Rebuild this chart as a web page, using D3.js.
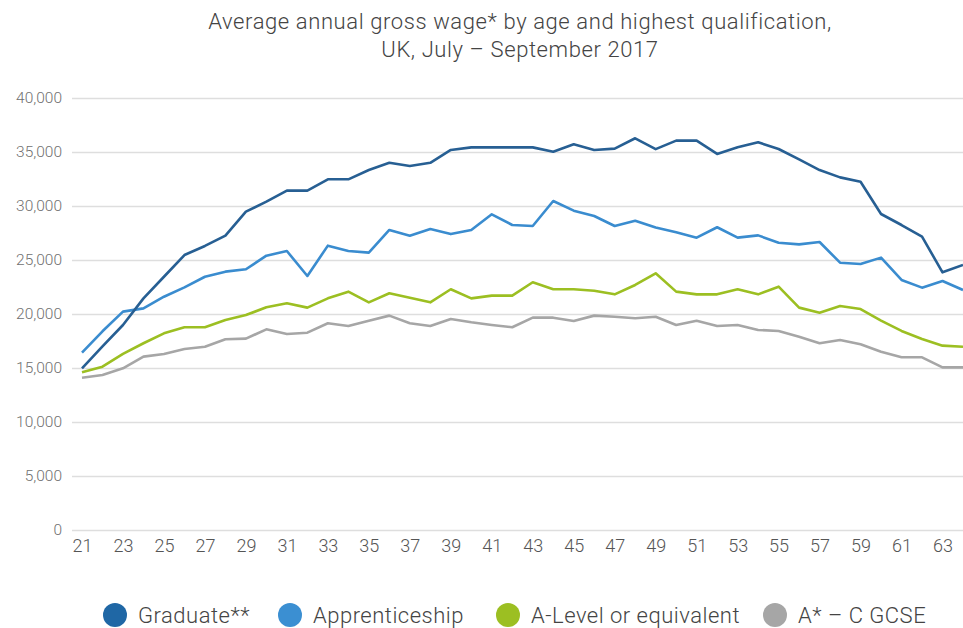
<!DOCTYPE html>
<html>
<head>
<meta charset="utf-8">
<script src="https://cdn.jsdelivr.net/npm/d3@7"></script>
<style>
  body { margin: 0; background: #fff; }
  svg { display: block; font-family: Roboto, "Liberation Sans", sans-serif; }
</style>
</head>
<body>
<svg id="chart" width="963" height="628"></svg>
<script>
const ages = d3.range(21, 65)

const graduate = [14970, 17000, 18980, 21450, 23450, 25460, 26300, 27250, 29480, 30400,
  31420, 31420, 32470, 32470, 33330, 34000, 33700, 34000, 35190, 35430,
  35430, 35430, 35430, 35030, 35710, 35190, 35310, 36270, 35270, 36050,
  36050, 34820, 35430, 35900, 35280, 34320, 33330, 32650, 32250, 29260,
  28240, 27160, 23860, 24540]
const apprenticeship = [16420, 18400, 20220, 20520, 21600, 22470, 23450, 23920, 24140, 25400,
  25830, 23520, 26330, 25830, 25680, 27780, 27250, 27870, 27400, 27780,
  29230, 28240, 28150, 30460, 29570, 29070, 28150, 28640, 28000, 27560,
  27070, 28030, 27070, 27280, 26600, 26450, 26670, 24750, 24630, 25220,
  23150, 22440, 23060, 22220]
const aLevel = [14600, 15120, 16300, 17290, 18210, 18770, 18770, 19440, 19900, 20620,
  20990, 20590, 21450, 22070, 21080, 21920, 21510, 21080, 22290, 21450,
  21700, 21700, 22940, 22290, 22290, 22160, 21820, 22690, 23770, 22070,
  21820, 21820, 22290, 21820, 22530, 20590, 20120, 20740, 20460, 19380,
  18430, 17690, 17070, 16970]
const gcse = [14100, 14350, 14970, 16050, 16300, 16760, 16970, 17660, 17720, 18580,
  18150, 18270, 19140, 18890, 19380, 19850, 19140, 18890, 19540, 19230,
  18980, 18770, 19660, 19660, 19350, 19850, 19750, 19600, 19750, 18980,
  19380, 18890, 18980, 18520, 18430, 17900, 17290, 17590, 17190, 16510,
  15990, 15990, 15060, 15060]

const seriesNames = ['Graduate**', 'Apprenticeship', 'A-Level or equivalent', 'A* \u2013 C GCSE']
const seriesValues = [graduate, apprenticeship, aLevel, gcse]
const lineColors = ['#275f93', '#3a8ccf', '#9cbf22', '#a6a6a6']
const legendColors = ['#1f67a5', '#3b8fd2', '#9cbf22', '#a6a6a6']
const yTicks = [0, 5000, 10000, 15000, 20000, 25000, 30000, 35000, 40000]
const xTicks = d3.range(21, 64, 2)

const svg = d3.select('#chart')

const x = d3.scaleLinear().domain([21, 64]).range([82, 963])
const y = d3.scaleLinear().domain([0, 40000]).range([530, 98])

// title
const title = svg.append('g')
  .attr('font-size', 22).attr('font-weight', 300).attr('letter-spacing', 0.6)
  .attr('fill', '#444').attr('text-anchor', 'middle')
title.append('text').attr('x', 520).attr('y', 29)
  .text('Average annual gross wage* by age and highest qualification,')
title.append('text').attr('x', 520).attr('y', 57)
  .text('UK, July \u2013 September 2017')

// gridlines + y labels
const yAxis = svg.append('g')
  .attr('transform', 'translate(72,0)')
  .call(d3.axisLeft(y).tickValues(yTicks).tickSize(-(963 - 72)).tickPadding(10)
    .tickFormat(d3.format(',')))
yAxis.select('.domain').remove()
yAxis.selectAll('.tick line').attr('stroke', '#dedede').attr('stroke-width', 1.5)
yAxis.selectAll('.tick text')
  .attr('font-size', 15.5).attr('font-weight', 300).attr('fill', '#707070')
  .attr('font-family', 'Roboto, sans-serif')

// x labels
const xAxis = svg.append('g')
  .attr('transform', 'translate(0,530)')
  .call(d3.axisBottom(x).tickValues(xTicks).tickSize(0).tickPadding(9))
xAxis.select('.domain').remove()
xAxis.selectAll('.tick text')
  .attr('font-size', 18).attr('font-weight', 300).attr('fill', '#555')
  .attr('font-family', 'Roboto, sans-serif')

// lines
const line = d3.line()
  .x((d, i) => x(ages[i]))
  .y(d => y(d))

seriesValues.slice().reverse().forEach((vals, j) => {
  const idx = seriesValues.length - 1 - j
  svg.append('path')
    .datum(vals)
    .attr('fill', 'none')
    .attr('stroke', lineColors[idx])
    .attr('stroke-width', 2.6)
    .attr('stroke-linejoin', 'round')
    .attr('d', line)
})

// legend
const legendX = [115, 290, 508, 775]
const legend = svg.append('g').attr('transform', 'translate(0,615)')
seriesNames.forEach((name, i) => {
  const g = legend.append('g').attr('transform', `translate(${legendX[i]},0)`)
  g.append('circle').attr('r', 12).attr('fill', legendColors[i])
  g.append('text')
    .attr('x', 23).attr('y', 7.5)
    .attr('font-size', 22).attr('font-weight', 300).attr('letter-spacing', 0.5)
    .attr('fill', '#444')
    .text(name)
})
</script>
</body>
</html>
